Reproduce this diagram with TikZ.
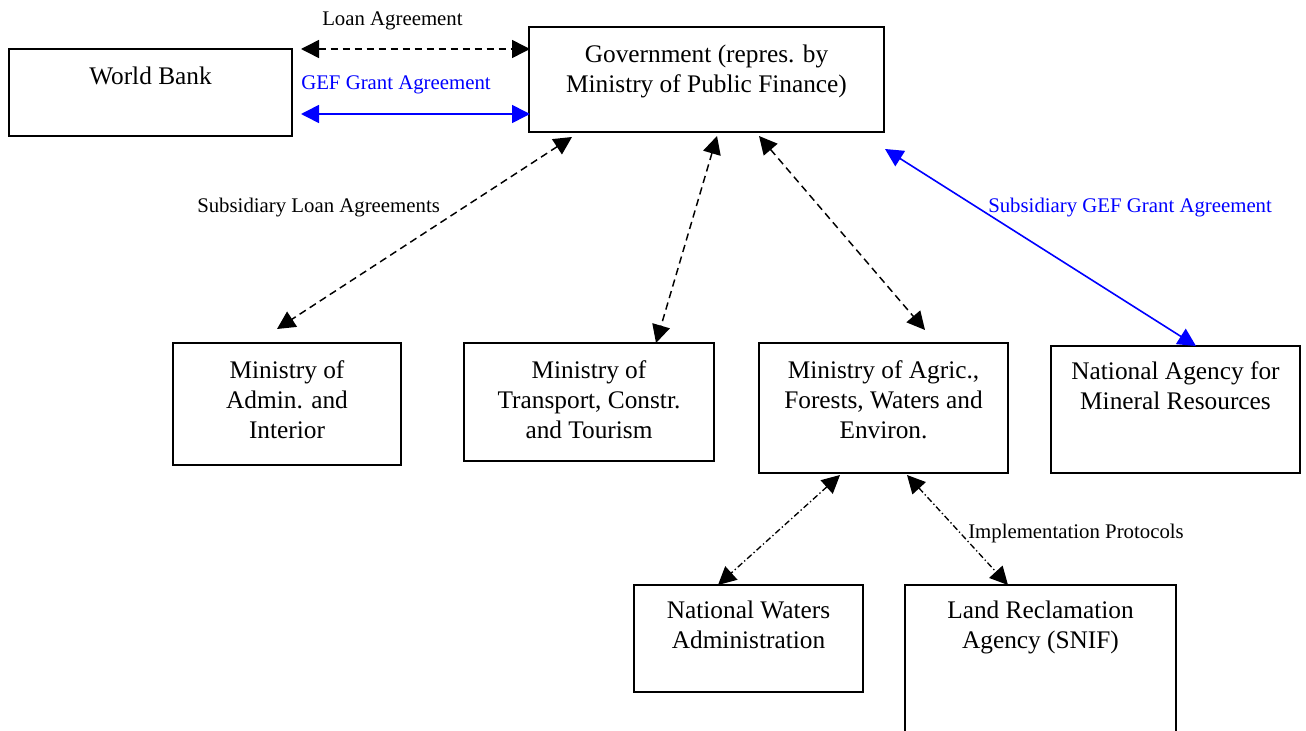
\documentclass[tikz,border=0pt]{standalone}
\usepackage{fontspec}
\setmainfont{Liberation Serif}
\usetikzlibrary{arrows.meta,calc}
\definecolor{gefblue}{RGB}{0,0,255}
\begin{document}
\begin{tikzpicture}[x=0.75pt,y=-0.75pt,
  box/.style={draw, line width=1.4pt, rectangle, inner sep=0pt, outer sep=0pt, anchor=north west},
  boxtxt/.style={font=\fontsize{19}{22.5}\selectfont, align=center, inner sep=0pt, anchor=north, yshift=-10.5pt},
  lbl/.style={font=\fontsize{15.6}{18}\selectfont, inner sep=0pt, anchor=base west},
  twotips/.style={{Triangle[length=13.5pt,width=13.5pt]}-{Triangle[length=13.5pt,width=13.5pt]}},
  loanline/.style={twotips, line width=1.1pt, dash pattern=on 5.5pt off 3.5pt},
  protline/.style={twotips, line width=1pt, dash pattern=on 4.5pt off 2pt on 1pt off 2pt},
  gefline/.style={twotips, line width=1.2pt, draw=gefblue, fill=gefblue}
]
\useasboundingbox (0,0) rectangle (1306,731);
\fill[white] (0,0) rectangle (1306,731);
\clip (0,0) rectangle (1306,731);

% boxes
\node[box, minimum width=283*0.75pt, minimum height=87*0.75pt,
  label={[boxtxt]north:{\strut World Bank}}] (wb) at (9,49) {};
\node[box, minimum width=355*0.75pt, minimum height=105*0.75pt,
  label={[boxtxt]north:{\strut Government (repres. by\\Ministry of Public Finance)}}] (gov) at (529,27) {};
\node[box, minimum width=228*0.75pt, minimum height=122*0.75pt,
  label={[boxtxt]north:{\strut Ministry of\\Admin. and\\Interior}}] (adm) at (173,343) {};
\node[box, minimum width=250*0.75pt, minimum height=118*0.75pt,
  label={[boxtxt]north:{\strut Ministry of\\Transport, Constr.\\and Tourism}}] (trn) at (464,343) {};
\node[box, minimum width=249*0.75pt, minimum height=130*0.75pt,
  label={[boxtxt]north:{\strut Ministry of Agric.,\\Forests, Waters and\\Environ.}}] (agr) at (759,343) {};
\node[box, minimum width=249*0.75pt, minimum height=127*0.75pt,
  label={[boxtxt, yshift=1pt]north:{\strut National Agency for\\Mineral Resources}}] (nam) at (1051,346) {};
\node[box, minimum width=229*0.75pt, minimum height=107*0.75pt,
  label={[boxtxt, yshift=1pt]north:{\strut National Waters\\Administration}}] (nwa) at (634,585) {};
\node[box, minimum width=271*0.75pt, minimum height=170*0.75pt,
  label={[boxtxt, yshift=1pt]north:{\strut Land Reclamation\\Agency (SNIF)}}] (lra) at (905,585) {};

% connectors
\draw[loanline] ([shift={(9,0)}]wb.north east) -- ([shift={(1,22)}]gov.north west);
\draw[gefline] ([shift={(9,65)}]wb.north east) -- ([shift={(1,87)}]gov.north west);
\draw[loanline] ([shift={(43,5)}]gov.south west) -- ([shift={(104,-14)}]adm.north west);
\draw[loanline] ([shift={(188,4)}]gov.south west) -- ([shift={(192,0)}]trn.north west);
\draw[loanline] ([shift={(230,4)}]gov.south west) -- ([shift={(166,-13)}]agr.north west);
\draw[gefline] ([shift={(1,17)}]gov.south east) -- ([shift={(145,0)}]nam.north west);
\draw[protline] ([shift={(81,2)}]agr.south west) -- ([shift={(84,0)}]nwa.north west);
\draw[protline] ([shift={(148,2)}]agr.south west) -- ([shift={(103,0)}]lra.north west);

% labels
\node[lbl] (lloan) at (322,26) {Loan Agreement};
\node[lbl, text=gefblue] (lgef) at (301,90) {GEF Grant Agreement};
\node[lbl] (lsubloan) at (197,212) {Subsidiary Loan Agreements};
\node[lbl, text=gefblue] (lsubgef) at (988,212) {Subsidiary GEF Grant Agreement};
\node[lbl] (limpl) at (968,538) {Implementation Protocols};
\end{tikzpicture}
\end{document}
